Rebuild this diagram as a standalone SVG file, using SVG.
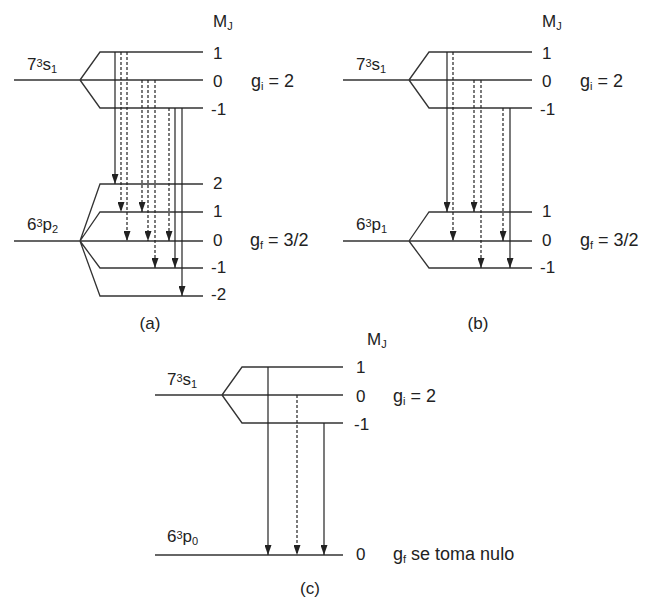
<svg xmlns="http://www.w3.org/2000/svg" width="651" height="600" viewBox="0 0 651 600">
<defs>
<style>
.lv{stroke:#333;stroke-width:1.3;fill:none}
.ar{stroke:#222;stroke-width:1.2;fill:none;marker-end:url(#ah)}
.da{stroke-dasharray:3 2}
text{font-family:"Liberation Sans",Arial,sans-serif;font-size:17px;fill:#222}
.g{font-size:18px}
.s{font-size:11px}
</style>
<marker id="ah" viewBox="0 0 10 7" refX="10" refY="3.5" markerWidth="10" markerHeight="7" markerUnits="userSpaceOnUse" orient="auto">
<path d="M0,0 L10,3.5 L0,7 z" fill="#222"/>
</marker>
</defs>
<rect width="651" height="600" fill="#fff"/>

<!-- Panel (a) -->
<g id="a-upper">
<path class="lv" d="M14,80 H203 M80,80 L100,52 H203 M80,80 L100,108 H203"/>
<text x="27" y="70">7<tspan class="s" dy="-3">3</tspan><tspan dy="3">s</tspan><tspan class="s" dy="3">1</tspan></text>
<text x="213" y="27">M<tspan class="s" dy="3">J</tspan></text>
<text x="213" y="59">1</text>
<text x="213" y="87">0</text>
<text x="211" y="115">-1</text>
<text class="g" x="251" y="87">g<tspan class="s" dy="3">i</tspan><tspan dy="-3"> = 2</tspan></text>
</g>
<g id="a-lower">
<path class="lv" d="M14,241 H203 M80,241 L100,184 H203 M80,241 L100,212 H203 M80,241 L100,268 H203 M80,241 L100,296 H203"/>
<text x="27" y="230">6<tspan class="s" dy="-3">3</tspan><tspan dy="3">p</tspan><tspan class="s" dy="3">2</tspan></text>
<text x="213" y="189">2</text>
<text x="213" y="217">1</text>
<text x="213" y="246">0</text>
<text x="211" y="273">-1</text>
<text x="211" y="300">-2</text>
<text class="g" x="250" y="246">g<tspan class="s" dy="3">f</tspan><tspan dy="-3"> = 3/2</tspan></text>
<text x="150" y="329" text-anchor="middle">(a)</text>
</g>
<g id="a-transitions">
<line class="ar" x1="115" y1="52" x2="115" y2="184"/>
<line class="ar da" x1="121" y1="52" x2="121" y2="212"/>
<line class="ar da" x1="127" y1="52" x2="127" y2="241"/>
<line class="ar da" x1="142" y1="80" x2="142" y2="212"/>
<line class="ar da" x1="148" y1="80" x2="148" y2="241"/>
<line class="ar da" x1="155" y1="80" x2="155" y2="268"/>
<line class="ar da" x1="169" y1="108" x2="169" y2="241"/>
<line class="ar" x1="175" y1="108" x2="175" y2="268"/>
<line class="ar" x1="182" y1="108" x2="182" y2="296"/>
</g>

<!-- Panel (b) -->
<g id="b-upper">
<path class="lv" d="M343,80 H532 M409,80 L429,52 H532 M409,80 L429,108 H532"/>
<text x="356" y="70">7<tspan class="s" dy="-3">3</tspan><tspan dy="3">s</tspan><tspan class="s" dy="3">1</tspan></text>
<text x="542" y="27">M<tspan class="s" dy="3">J</tspan></text>
<text x="542" y="59">1</text>
<text x="542" y="87">0</text>
<text x="540" y="115">-1</text>
<text class="g" x="580" y="87">g<tspan class="s" dy="3">i</tspan><tspan dy="-3"> = 2</tspan></text>
</g>
<g id="b-lower">
<path class="lv" d="M343,241 H532 M409,241 L429,212 H532 M409,241 L429,268 H532"/>
<text x="356" y="230">6<tspan class="s" dy="-3">3</tspan><tspan dy="3">p</tspan><tspan class="s" dy="3">1</tspan></text>
<text x="542" y="217">1</text>
<text x="542" y="246">0</text>
<text x="540" y="273">-1</text>
<text class="g" x="580" y="246">g<tspan class="s" dy="3">f</tspan><tspan dy="-3"> = 3/2</tspan></text>
<text x="478" y="329" text-anchor="middle">(b)</text>
</g>
<g id="b-transitions">
<line class="ar" x1="447" y1="52" x2="447" y2="212"/>
<line class="ar da" x1="453" y1="52" x2="453" y2="241"/>
<line class="ar da" x1="474" y1="80" x2="474" y2="212"/>
<line class="ar da" x1="481" y1="80" x2="481" y2="268"/>
<line class="ar da" x1="503" y1="108" x2="503" y2="241"/>
<line class="ar" x1="510" y1="108" x2="510" y2="268"/>
</g>

<!-- Panel (c) -->
<g id="c-upper">
<path class="lv" d="M155,395 H343 M222,395 L242,367 H343 M222,395 L242,423 H343"/>
<text x="167" y="385">7<tspan class="s" dy="-3">3</tspan><tspan dy="3">s</tspan><tspan class="s" dy="3">1</tspan></text>
<text x="367" y="345">M<tspan class="s" dy="3">J</tspan></text>
<text x="356" y="373">1</text>
<text x="356" y="402">0</text>
<text x="354" y="430">-1</text>
<text class="g" x="393" y="402">g<tspan class="s" dy="3">i</tspan><tspan dy="-3"> = 2</tspan></text>
</g>
<g id="c-lower">
<path class="lv" d="M155,555 H343"/>
<text x="167" y="542">6<tspan class="s" dy="-3">3</tspan><tspan dy="3">p</tspan><tspan class="s" dy="3">0</tspan></text>
<text x="356" y="560">0</text>
<text class="g" x="393" y="560">g<tspan class="s" dy="3">f</tspan><tspan dy="-3"> se toma nulo</tspan></text>
<text x="310" y="594" text-anchor="middle">(c)</text>
</g>
<g id="c-transitions">
<line class="ar" x1="268" y1="367" x2="268" y2="555"/>
<line class="ar da" x1="297" y1="395" x2="297" y2="555"/>
<line class="ar" x1="324" y1="423" x2="324" y2="555"/>
</g>
</svg>
